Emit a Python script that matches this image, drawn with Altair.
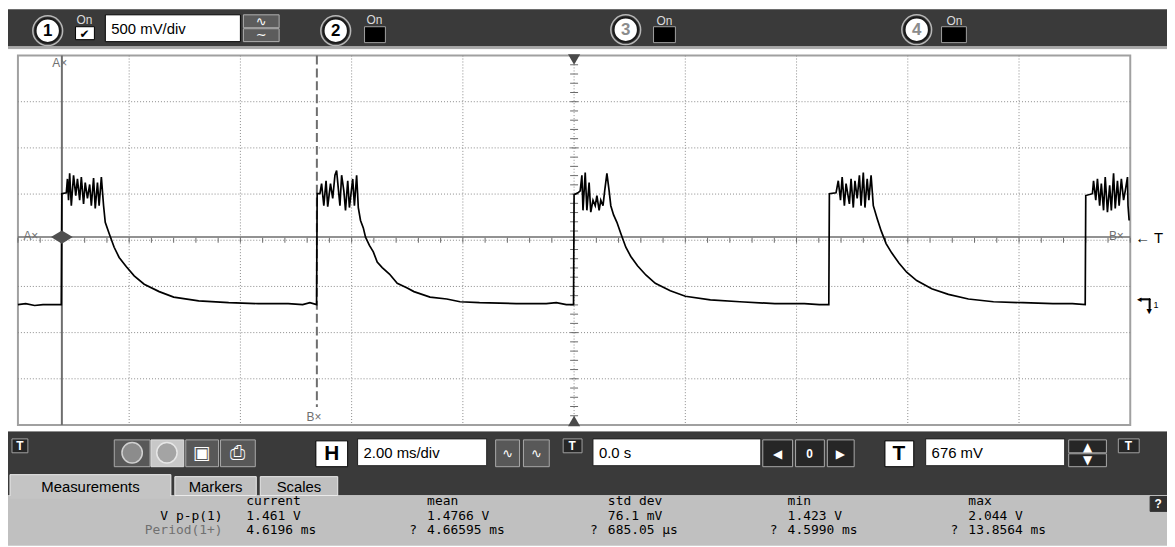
import altair as alt
import pandas as pd

# ---------------- channel 1 waveform (time in ms from trigger, volts) ----------------
pre_t = [-10.00, -9.86, -9.70, -9.55, -9.40, -9.22]
pre_v = [-0.02, -0.01, -0.03, -0.02, -0.02, -0.02]

p1_t = [-9.21, -9.13, -9.11, -9.09, -9.07, -9.04, -9.00, -8.96, -8.93, -8.89,
        -8.86, -8.82, -8.79, -8.75, -8.71, -8.68, -8.64, -8.61, -8.57, -8.54,
        -8.50, -8.46, -8.43, -8.36, -8.27, -8.18, -8.05, -7.91, -7.73, -7.46,
        -7.20, -6.75, -6.21, -5.68, -5.14, -4.88, -4.75, -4.63]
p1_v = [1.18, 1.19, 1.34, 1.11, 1.40, 1.05, 1.38, 1.16, 1.34, 1.11,
        1.36, 1.07, 1.30, 1.13, 1.28, 1.05, 1.35, 1.02, 1.30, 1.05,
        1.36, 1.05, 0.87, 0.75, 0.60, 0.49, 0.39, 0.29, 0.20, 0.12,
        0.06, 0.02, 0.00, -0.01, -0.01, -0.02, 0.00, -0.02]

p2_t = [-4.62, -4.57, -4.54, -4.50, -4.46, -4.43, -4.38, -4.34, -4.30, -4.27,
        -4.21, -4.18, -4.14, -4.11, -4.07, -4.04, -3.98, -3.95, -3.91, -3.88,
        -3.84, -3.79, -3.75, -3.68, -3.61, -3.54, -3.45, -3.32, -3.18, -3.00,
        -2.88, -2.59, -2.29, -2.05, -1.70, -1.04, -0.50, -0.32, -0.14, -0.01]
p2_v = [1.18, 1.18, 1.29, 1.05, 1.32, 1.04, 1.29, 1.13, 1.38, 1.43,
        1.05, 1.38, 1.21, 1.00, 1.32, 1.03, 1.34, 1.05, 1.38, 1.03,
        0.89, 0.81, 0.71, 0.62, 0.55, 0.44, 0.38, 0.31, 0.21, 0.16,
        0.12, 0.06, 0.04, 0.01, 0.00, -0.01, -0.01, 0.00, -0.02, -0.02]

p3_t = [0.00, 0.07, 0.11, 0.14, 0.16, 0.20, 0.23, 0.27, 0.30, 0.34,
        0.38, 0.41, 0.45, 0.48, 0.52, 0.55, 0.59, 0.63, 0.66, 0.71,
        0.77, 0.84, 0.93, 1.02, 1.14, 1.29, 1.46, 1.73, 2.00, 2.45,
        2.98, 3.61, 4.14, 4.41, 4.58]
p3_v = [1.17, 1.19, 1.21, 1.38, 1.00, 1.41, 1.00, 1.30, 0.98, 1.11,
        1.05, 1.16, 1.00, 1.11, 1.05, 1.21, 1.40, 1.21, 1.05, 0.95,
        0.87, 0.75, 0.60, 0.50, 0.40, 0.30, 0.21, 0.13, 0.07, 0.03,
        0.01, -0.01, -0.01, -0.02, -0.02]

p4_t = [4.59, 4.71, 4.75, 4.79, 4.82, 4.86, 4.89, 4.95, 4.98, 5.02,
        5.05, 5.09, 5.13, 5.16, 5.20, 5.23, 5.27, 5.30, 5.34, 5.38,
        5.45, 5.52, 5.61, 5.71, 5.84, 5.98, 6.16, 6.43, 6.73, 7.09,
        7.54, 8.07, 8.61, 8.96, 9.19]
p4_v = [1.18, 1.19, 1.32, 1.11, 1.36, 1.05, 1.29, 1.07, 1.34, 1.03,
        1.32, 1.13, 1.38, 1.05, 1.41, 1.03, 1.34, 1.11, 1.38, 1.05,
        0.91, 0.78, 0.64, 0.54, 0.43, 0.33, 0.24, 0.15, 0.09, 0.04,
        0.01, 0.00, -0.01, -0.01, -0.02]

p5_t = [9.20, 9.32, 9.34, 9.38, 9.41, 9.45, 9.48, 9.52, 9.55, 9.59,
        9.63, 9.66, 9.70, 9.73, 9.77, 9.80, 9.84, 9.88, 9.91, 9.95,
        9.96, 9.98]
p5_v = [1.16, 1.18, 1.32, 1.11, 1.34, 1.05, 1.29, 1.00, 1.36, 0.98,
        1.27, 1.00, 1.40, 1.02, 1.32, 1.05, 1.34, 1.11, 1.21, 1.36,
        1.05, 0.89]

# ---------------- scope settings ----------------
MS_PER_DIV = 2.0
V_PER_DIV = 0.5
TRIG_V = 0.676
CURSOR_A_MS = -9.21
CURSOR_B_MS = -4.625
CURSOR_LEVEL_V = 0.71

# ---------------- labels ----------------
channel_ids = ["1", "2", "3", "4"]
vdiv_label = "500 mV/div"
timebase_label = "2.00 ms/div"
position_label = "0.0 s"
trig_label = "676 mV"
tab_labels = ["Measurements", "Markers", "Scales"]
meas_cols = ["current", "mean", "std dev", "min", "max"]
meas_rows = ["V p-p(1)", "Period(1+)"]
vpp_vals = ["1.461 V", "1.4766 V", "76.1 mV", "1.423 V", "2.044 V"]
period_vals = ["4.6196 ms", "4.66595 ms", "685.05 \u00b5s", "4.5990 ms", "13.8564 ms"]
period_flags = ["", "?", "?", "?", "?"]

# ---------------- layout (screen pixels) ----------------
X0, Y0 = 18, 54          # plot area origin on screen
W, H = 1120, 372
SANS = "Liberation Sans"
MONO = "DejaVu Sans Mono"

T_DOM = [-5 * MS_PER_DIV, 5 * MS_PER_DIV]
V_DOM = [TRIG_V - 4 * V_PER_DIV, TRIG_V + 4 * V_PER_DIV]
xs = alt.Scale(domain=T_DOM, nice=False, zero=False)
ys = alt.Scale(domain=V_DOM, nice=False, zero=False)

layers = []

# chrome rectangles: X1, Y1, X2, Y2, fill, stroke
rects = [
    (0, 8, 1175, 45, "#3a3a3a", "#3a3a3a"),
    (0, 45, 1175, 47, "#a8a8a8", "#a8a8a8"),
    (106, 13, 242, 40, "#ffffff", "#000000"),
    (245, 13, 281, 26, "#5c5c5c", "#b0b0b0"),
    (245, 27, 281, 40, "#5c5c5c", "#b0b0b0"),
    (76, 25, 95, 38, "#ffffff", "#000000"),
    (367, 25, 388, 41, "#000000", "#a0a0a0"),
    (658, 25, 680, 41, "#000000", "#a0a0a0"),
    (948, 25, 973, 41, "#000000", "#a0a0a0"),
    (0, 433, 1175, 497, "#3a3a3a", "#3a3a3a"),
    (0, 497, 1175, 547, "#c0c0c0", "#c0c0c0"),
    (10, 476, 172, 498, "#c4c4c4", "#ececec"),
    (176, 478, 258, 497, "#c0c0c0", "#ececec"),
    (262, 478, 340, 497, "#c0c0c0", "#ececec"),
    (10, 498, 172, 500, "#c4c4c4", "#c4c4c4"),
    (12, 440, 28, 454, "#262626", "#a0a0a0"),
    (567, 440, 586, 454, "#262626", "#a0a0a0"),
    (1126, 440, 1147, 454, "#262626", "#a0a0a0"),
    (115, 441, 151, 468, "#585858", "#a8a8a8"),
    (152, 441, 185, 468, "#c8c8c8", "#e0e0e0"),
    (187, 441, 220, 468, "#585858", "#a8a8a8"),
    (222, 441, 257, 468, "#585858", "#a8a8a8"),
    (318, 442, 350, 468, "#ffffff", "#000000"),
    (360, 440, 490, 467, "#ffffff", "#202020"),
    (499, 441, 523, 468, "#585858", "#a8a8a8"),
    (527, 441, 553, 468, "#585858", "#a8a8a8"),
    (597, 440, 766, 467, "#ffffff", "#202020"),
    (768, 441, 798, 468, "#262626", "#a8a8a8"),
    (801, 441, 830, 468, "#262626", "#a8a8a8"),
    (833, 441, 860, 468, "#262626", "#a8a8a8"),
    (891, 442, 920, 468, "#ffffff", "#000000"),
    (932, 440, 1072, 467, "#ffffff", "#202020"),
    (1076, 441, 1114, 454, "#262626", "#a8a8a8"),
    (1076, 455, 1114, 468, "#262626", "#a8a8a8"),
    (1158, 498, 1175, 513, "#303030", "#303030"),
    (1148, 299, 1158, 300, "#000000", "#000000"),
    (1157, 299, 1158, 309, "#000000", "#000000"),
]
rdf = pd.DataFrame(rects, columns=["X1", "Y1", "X2", "Y2", "fill", "stroke"])
rdf["x1"] = rdf.X1 - X0
rdf["x2"] = rdf.X2 - X0
rdf["y1"] = rdf.Y1 - Y0
rdf["y2"] = rdf.Y2 - Y0
layers.append(
    alt.Chart(rdf).mark_rect(strokeWidth=1).encode(
        x=alt.X("x1:Q", scale=None, axis=None), x2="x2:Q",
        y=alt.Y("y1:Q", scale=None, axis=None), y2="y2:Q",
        fill=alt.Fill("fill:N", scale=None, legend=None),
        stroke=alt.Stroke("stroke:N", scale=None, legend=None),
    )
)


def pix_points(rows, **mark):
    df = pd.DataFrame(rows, columns=["X", "Y"])
    df["px"] = df.X - X0
    df["py"] = df.Y - Y0
    return alt.Chart(df).mark_point(opacity=1, **mark).encode(
        x=alt.X("px:Q", scale=None, axis=None),
        y=alt.Y("py:Q", scale=None, axis=None),
    )


def pix_text(rows, size, font=SANS, weight="normal", align="left"):
    df = pd.DataFrame(rows, columns=["X", "Y", "s", "c"])
    df["px"] = df.X - X0
    df["py"] = df.Y - Y0
    return alt.Chart(df).mark_text(
        font=font, fontSize=size, fontWeight=weight, align=align, baseline="middle"
    ).encode(
        x=alt.X("px:Q", scale=None, axis=None),
        y=alt.Y("py:Q", scale=None, axis=None),
        text="s:N",
        color=alt.Color("c:N", scale=None, legend=None),
    )


# channel circles in the top bar
circle_xy = [(48, 29), (338, 29), (630, 28), (923, 28)]
layers.append(pix_points(circle_xy, shape="circle", size=900, filled=False,
                         stroke="#b8b8b8", strokeWidth=1.5))
layers.append(pix_points(circle_xy, shape="circle", size=600, filled=True,
                         fill="#ffffff", stroke="#1a1a1a", strokeWidth=2))
# bottom circle buttons
layers.append(pix_points([(133, 454)], shape="circle", size=420, filled=True,
                         fill="#8c8c8c", stroke="#d0d0d0", strokeWidth=1.5))
layers.append(pix_points([(168, 454)], shape="circle", size=420, filled=True,
                         fill="#a4a4a4", stroke="#e6e6e6", strokeWidth=1.5))

# ---------------- plot area ----------------
grid_t = [-8, -6, -4, -2, 0, 2, 4, 6, 8]
grid_v = [TRIG_V + k * V_PER_DIV for k in (-3, -2, -1, 0, 1, 2, 3)]
minor_t = [T_DOM[0] + 0.2 * MS_PER_DIV * k for k in range(51)]
minor_v = [V_DOM[0] + 0.2 * V_PER_DIV * k for k in range(41)]

layers.append(
    alt.Chart(pd.DataFrame({"t": grid_t})).mark_rule(
        color="#8a8a8a", strokeWidth=1, strokeDash=[1, 2]
    ).encode(x=alt.X("t:Q", scale=xs, axis=None))
)
layers.append(
    alt.Chart(pd.DataFrame({"v": grid_v})).mark_rule(
        color="#8a8a8a", strokeWidth=1, strokeDash=[1, 2]
    ).encode(y=alt.Y("v:Q", scale=ys, axis=None))
)
layers.append(
    alt.Chart(pd.DataFrame({"t": minor_t, "v": [TRIG_V] * len(minor_t)})).mark_tick(
        orient="vertical", size=5, thickness=1, color="#6a6a6a", opacity=1
    ).encode(x=alt.X("t:Q", scale=xs, axis=None), y=alt.Y("v:Q", scale=ys, axis=None))
)
layers.append(
    alt.Chart(pd.DataFrame({"t": [0.0] * len(minor_v), "v": minor_v})).mark_tick(
        orient="horizontal", size=8, thickness=1, color="#6a6a6a", opacity=1
    ).encode(x=alt.X("t:Q", scale=xs, axis=None), y=alt.Y("v:Q", scale=ys, axis=None))
)
# cursors
layers.append(
    alt.Chart(pd.DataFrame({"v": [CURSOR_LEVEL_V]})).mark_rule(
        color="#6e6e6e", strokeWidth=1.5
    ).encode(y=alt.Y("v:Q", scale=ys, axis=None))
)
layers.append(
    alt.Chart(pd.DataFrame({"t": [CURSOR_A_MS]})).mark_rule(
        color="#6e6e6e", strokeWidth=2
    ).encode(x=alt.X("t:Q", scale=xs, axis=None))
)
layers.append(
    alt.Chart(pd.DataFrame({"t": [CURSOR_B_MS]})).mark_rule(
        color="#6e6e6e", strokeWidth=2, strokeDash=[9, 4]
    ).encode(x=alt.X("t:Q", scale=xs, axis=None), y=alt.value(0), y2=alt.value(354))
)

# trace
trace_t = pre_t + p1_t + p2_t + p3_t + p4_t + p5_t
trace_v = pre_v + p1_v + p2_v + p3_v + p4_v + p5_v
trace = pd.DataFrame({"t": trace_t, "v": trace_v, "i": list(range(len(trace_t)))})
layers.append(
    alt.Chart(trace).mark_line(color="#000000", strokeWidth=1.7).encode(
        x=alt.X("t:Q", scale=xs, axis=None),
        y=alt.Y("v:Q", scale=ys, axis=None),
        order=alt.Order("i:Q"),
    )
)

# markers on the graticule
layers.append(
    alt.Chart(pd.DataFrame({"t": [CURSOR_A_MS], "v": [CURSOR_LEVEL_V]})).mark_point(
        shape="M-1,0L0,-0.6L1,0L0,0.6Z", size=480, filled=True, fill="#505050",
        strokeWidth=0, opacity=1
    ).encode(x=alt.X("t:Q", scale=xs, axis=None), y=alt.Y("v:Q", scale=ys, axis=None))
)
layers.append(
    alt.Chart(pd.DataFrame({"t": [0.0]})).mark_point(
        shape="triangle-down", size=150, filled=True, fill="#4a4a4a", strokeWidth=0, opacity=1
    ).encode(x=alt.X("t:Q", scale=xs, axis=None), y=alt.value(4))
)
layers.append(
    alt.Chart(pd.DataFrame({"t": [0.0]})).mark_point(
        shape="triangle-up", size=150, filled=True, fill="#4a4a4a", strokeWidth=0, opacity=1
    ).encode(x=alt.X("t:Q", scale=xs, axis=None), y=alt.value(H - 4))
)

# ---------------- texts ----------------
GRAY = "#707070"
layers.append(pix_text([(60, 62, "A\u00d7", GRAY), (316, 418, "B\u00d7", GRAY),
                        (31, 236, "A\u00d7", GRAY), (1124, 236, "B\u00d7", GRAY)],
                       12, align="center"))
layers.append(pix_text([(1143, 238, "\u2190 T", "#000000")], 15))
layers.append(pix_text([(1147, 299, "\u25c2", "#000000"), (1157, 311, "\u25bc", "#000000"),
                        (1164, 305, "1", "#000000")], 9, align="center"))

# top bar
num_colors = ["#000000", "#000000", "#8c8c8c", "#8c8c8c"]
layers.append(pix_text([(x, y, s, c) for (x, y), s, c in zip(circle_xy, channel_ids, num_colors)],
                       17, weight="bold", align="center"))
layers.append(pix_text([(85, 18, "On", "#dcdcdc"), (377, 18, "On", "#dcdcdc"),
                        (669, 19, "On", "#dcdcdc"), (961, 19, "On", "#dcdcdc")],
                       12, align="center"))
layers.append(pix_text([(85, 32, "\u2714", "#000000")], 12, font="DejaVu Sans", align="center"))
layers.append(pix_text([(263, 20, "\u223f", "#ffffff"), (263, 33, "\u223c", "#ffffff"),
                        (511, 455, "\u223f", "#ffffff"), (540, 455, "\u223f", "#ffffff")],
                       13, font="DejaVu Sans", align="center"))
layers.append(pix_text([(112, 27, vdiv_label, "#000000"), (366, 454, timebase_label, "#000000"),
                        (603, 454, position_label, "#000000"), (938, 454, trig_label, "#000000")],
                       15))

# bottom toolbar glyphs
layers.append(pix_text([(334, 455, "H", "#000000"), (905, 455, "T", "#000000")],
                       21, weight="bold", align="center"))
layers.append(pix_text([(20, 447, "T", "#ffffff"), (576, 447, "T", "#ffffff"),
                        (1136, 447, "T", "#ffffff"), (815, 455, "0", "#ffffff"),
                        (1166, 506, "?", "#ffffff")],
                       12, weight="bold", align="center"))
layers.append(pix_text([(783, 455, "\u25c0", "#ffffff"), (846, 455, "\u25b6", "#ffffff"),
                        (1095, 448, "\u25b2", "#ffffff"), (1095, 461, "\u25bc", "#ffffff")],
                       12, font="DejaVu Sans", align="center"))
layers.append(pix_text([(203, 454, "\u25a3", "#ffffff"), (239, 454, "\u2399", "#ffffff")],
                       19, font="DejaVu Sans", align="center"))

# tabs
tab_x = [91, 217, 301]
layers.append(pix_text([(x, 488, s, "#000000") for x, s in zip(tab_x, tab_labels)],
                       15, align="center"))

# measurements table
col_x = [248, 430, 612, 793, 975]
ROW_Y = [503, 517.5, 532]
rows = [(x, ROW_Y[0], s, "#000000") for x, s in zip(col_x, meas_cols)]
rows += [(x, ROW_Y[1], s, "#000000") for x, s in zip(col_x, vpp_vals)]
rows += [(x, ROW_Y[2], s, "#000000") for x, s in zip(col_x, period_vals)]
rows += [(x - 18, ROW_Y[2], f, "#000000") for x, f in zip(col_x, period_flags) if f]
layers.append(pix_text(rows, 13, font=MONO))
layers.append(pix_text([(224, ROW_Y[1], meas_rows[0], "#000000"),
                        (224, ROW_Y[2], meas_rows[1], GRAY)],
                       13, font=MONO, align="right"))

chart = (
    alt.layer(*layers)
    .properties(
        width=W, height=H,
        padding={"left": 10, "top": 46, "right": 37, "bottom": 121},
        autosize=alt.AutoSizeParams(type="none"),
        background="#ffffff",
    )
    .resolve_scale(x="independent", y="independent", color="independent",
                   fill="independent", stroke="independent")
    .configure_view(stroke="#a0a0a0", strokeWidth=2)
)

chart.save("out.html", embed_options={"renderer": "svg", "actions": False})
